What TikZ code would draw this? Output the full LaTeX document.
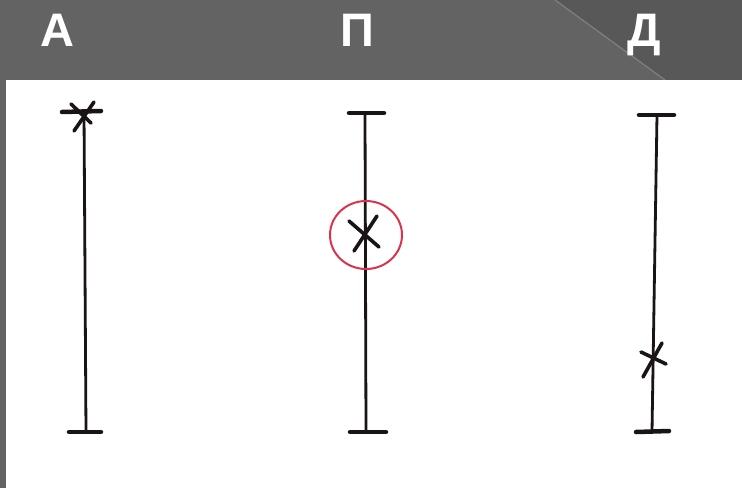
\documentclass[tikz,border=0pt]{standalone}
\usepackage{fontspec}
\setmainfont{Liberation Sans}
\definecolor{band}{HTML}{636363}
\definecolor{banddark}{HTML}{585858}
\definecolor{diag}{HTML}{808080}
\definecolor{ink}{HTML}{1A1515}
\definecolor{ring}{HTML}{D8344E}
\begin{document}
\begin{tikzpicture}[x=1pt,y=-1pt,
  letter/.style={text=white,font=\bfseries\fontsize{47}{47}\selectfont,anchor=base,inner sep=0pt},
  stem/.style={draw=ink,line width=2.8pt,line cap=round},
  tick/.style={draw=ink,line width=4.5pt,line cap=round},
  cross/.style={draw=ink,line width=3.6pt,line cap=round},
  ringstyle/.style={draw=ring,line width=2pt}]
\useasboundingbox (0,0) rectangle (742,488);
% header band
\fill[band] (0,0) rectangle (742,80);
\fill[banddark] (555,0) -- (742,0) -- (742,80) -- (665,80) -- cycle;
\draw[diag,line width=1.2pt] (555,0) -- (665,80);
\fill[band] (0,80) rectangle (6,488);
\fill[white] (6,80) rectangle (742,488);
% letters
\node[letter] (la) at (57,46) {А};
\node[letter] (lp) at (357,46) {П};
\node[letter] (ld) at (644,46) {Д};
% column A
\coordinate (a1) at (84,112);
\coordinate (a2) at (86,432);
\draw[stem] (a1) -- (a2);
\draw[tick] (62,112) -- (101,111);
\draw[tick] (69,432) -- (101,432);
\draw[cross] (74,131) -- (94,102);
\draw[cross] (71,104) -- (91,123);
% column P
\coordinate (p1) at (365,113);
\coordinate (p2) at (366,432);
\draw[stem] (p1) -- (p2);
\draw[tick] (349,113) -- (384,113);
\draw[tick] (350,432) -- (386,432);
\draw[ringstyle] (366,235) ellipse [x radius=36, y radius=34];
\draw[cross] (349,221) -- (379,247);
\draw[cross] (377,216) -- (354,251);
% column D
\coordinate (d1) at (657,115);
\coordinate (d2) at (652,432);
\draw[stem] (d1) -- (d2);
\draw[tick] (639,115) -- (674,115);
\draw[tick] (636,432) -- (669,431);
\draw[cross] (641,352) -- (666,364);
\draw[cross] (662,343) -- (643,377);
\end{tikzpicture}
\end{document}
